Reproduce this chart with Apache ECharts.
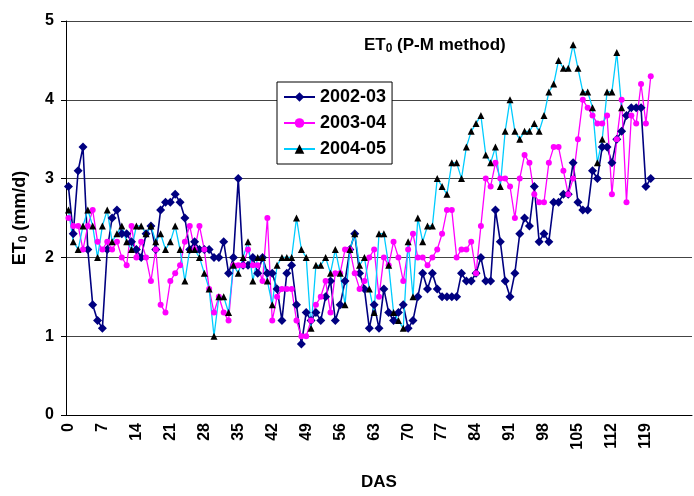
<!DOCTYPE html>
<html>
<head>
<meta charset="utf-8">
<script src="https://cdn.jsdelivr.net/npm/echarts@6/dist/echarts.min.js"></script>
<style>
html,body{margin:0;padding:0;background:#fff;}
#chart{width:694px;height:496px;}
</style>
</head>
<body>
<div id="chart"></div>
<script>
// Day categories (DAS) shown on the x axis
const dayCount = 129;
const days = [];
for (let i = 0; i < dayCount; i++) days.push(String(i));
const tickLabels = ['0','7','14','21','28','35','42','49','56','63','70','77','84','91','98','105','112','119'];
const yTicks = [0, 1, 2, 3, 4, 5];

const seriesNames = ['2002-03', '2003-04', '2004-05'];

const et2002 = [2.9,2.3,3.1,3.4,2.1,1.4,1.2,1.1,2.1,2.5,
 2.6,2.3,2.3,2.2,2.1,2.0,2.3,2.4,2.1,2.6,
 2.7,2.7,2.8,2.7,2.5,2.1,2.2,2.1,2.1,2.1,
 2.0,2.0,2.2,1.8,2.0,3.0,1.9,1.9,2.0,1.8,
 2.0,1.8,1.8,1.6,1.2,1.8,1.9,1.4,0.9,1.3,
 1.2,1.3,1.2,1.5,1.7,1.2,1.4,1.7,2.1,2.3,
 1.8,1.6,1.1,1.4,1.1,1.6,1.3,1.2,1.3,1.4,
 1.1,1.2,1.5,1.8,1.6,1.8,1.6,1.5,1.5,1.5,
 1.5,1.8,1.7,1.7,1.8,2.0,1.7,1.7,2.6,2.2,
 1.7,1.5,1.8,2.3,2.5,2.4,2.9,2.2,2.3,2.2,
 2.7,2.7,2.8,2.8,3.2,2.7,2.6,2.6,3.1,3.0,
 3.4,3.4,3.2,3.5,3.6,3.8,3.9,3.9,3.9,2.9,
 3.0];

const et2003 = [2.5,2.4,2.4,2.1,2.4,2.6,2.2,2.1,2.2,2.1,
 2.2,2.0,1.9,2.4,2.0,2.2,2.0,1.7,2.1,1.4,
 1.3,1.7,1.8,1.9,2.2,2.4,2.1,2.4,2.1,1.6,
 1.3,1.5,1.3,1.2,1.9,1.9,1.9,2.1,1.9,1.9,
 1.7,2.5,1.2,1.5,1.6,1.6,1.6,1.2,1.0,1.0,
 1.2,1.4,1.5,1.7,1.3,1.8,1.8,2.1,2.1,1.8,
 1.6,1.7,2.0,2.1,1.5,2.0,1.9,2.2,2.0,1.7,
 2.1,2.3,2.0,2.0,1.9,2.0,2.1,2.3,2.6,2.6,
 2.0,2.1,2.1,2.2,1.8,2.4,3.0,2.9,3.2,3.0,
 3.0,2.9,2.5,3.0,3.3,3.2,2.8,2.7,2.7,3.2,
 3.4,3.4,3.1,2.8,3.0,3.5,4.0,3.9,3.8,3.7,
 3.7,3.8,2.8,3.5,4.0,2.7,3.8,3.7,4.2,3.7,
 4.3];

const et2004 = [2.6,2.2,2.1,2.4,2.6,2.4,2.0,2.4,2.6,2.2,
 2.3,2.4,2.2,2.1,2.4,2.4,2.3,2.4,2.2,2.3,
 2.1,2.2,2.4,2.1,1.7,2.1,2.1,2.0,1.8,1.6,
 1.0,1.5,1.5,1.3,1.9,1.8,2.0,2.2,1.7,2.0,
 2.0,1.7,1.4,1.9,2.0,2.0,2.0,2.5,2.1,2.0,
 1.1,1.9,1.9,2.0,1.8,2.1,1.8,1.4,2.1,2.3,
 1.9,2.0,1.6,1.3,2.3,2.3,1.9,1.3,1.2,1.1,
 2.2,1.5,2.5,2.2,2.4,2.4,3.0,2.9,2.8,3.2,
 3.2,3.0,3.4,3.6,3.7,3.8,3.3,3.2,3.4,2.9,
 3.6,4.0,3.6,3.5,3.6,3.6,3.7,3.6,3.8,4.1,
 4.2,4.5,4.4,4.4,4.7,4.4,4.1,4.1,3.9,3.2,
 3.5,4.1,4.1,4.6,3.9];

const FONT = '"Liberation Sans", Arial, sans-serif';
const chart = echarts.init(document.getElementById('chart'), null, {renderer: 'canvas'});

const option = {
  animation: false,
  backgroundColor: '#fff',
  title: {
    text: '{a|ET}{s|0}{a| (P-M method)}',
    left: 359, top: 30,
    textStyle: {
      rich: {
        a: {fontFamily: FONT, fontWeight: 'bold', fontSize: 17, color: '#000'},
        s: {fontFamily: FONT, fontWeight: 'bold', fontSize: 12, color: '#000', verticalAlign: 'bottom', padding: [8, 0, 0, 0]}
      }
    }
  },
  legend: {
    orient: 'vertical',
    left: 277, top: 82,
    padding: [6, 6, 6, 6],
    itemWidth: 31, itemHeight: 12, itemGap: 8,
    borderColor: '#000', borderWidth: 1,
    backgroundColor: '#fff',
    textStyle: {fontFamily: FONT, fontWeight: 'bold', fontSize: 18, color: '#000'},
    data: seriesNames
  },
  grid: {left: 66, right: 2, top: 21, bottom: 68, containLabel: false},
  xAxis: {
    type: 'category',
    data: days,
    boundaryGap: true,
    name: 'DAS',
    nameLocation: 'middle',
    nameGap: 59,
    nameTextStyle: {fontFamily: FONT, fontWeight: 'bold', fontSize: 17, color: '#000'},
    axisLine: {lineStyle: {color: '#000', width: 1}},
    axisTick: {length: 5, lineStyle: {color: '#000'}, interval: (i) => i % 7 === 0},
    axisLabel: {
      rotate: 90,
      interval: (i, v) => tickLabels.indexOf(v) >= 0,
      fontFamily: FONT, fontWeight: 'bold', fontSize: 16, color: '#000', margin: 8
    },
    splitLine: {show: false}
  },
  yAxis: {
    type: 'value',
    min: yTicks[0], max: yTicks[yTicks.length - 1], interval: 1,
    name: '{a|ET}{s|0}{a| (mm/d)}',
    nameLocation: 'middle',
    nameGap: 36,
    nameRotate: 90,
    nameTextStyle: {
      rich: {
        a: {fontFamily: FONT, fontWeight: 'bold', fontSize: 18, color: '#000'},
        s: {fontFamily: FONT, fontWeight: 'bold', fontSize: 12, color: '#000', verticalAlign: 'bottom', padding: [8, 0, 0, 0]}
      }
    },
    axisLine: {show: true, lineStyle: {color: '#000', width: 1}},
    axisTick: {show: true, length: 5, lineStyle: {color: '#000'}},
    axisLabel: {fontFamily: FONT, fontWeight: 'bold', fontSize: 16, color: '#000', margin: 12},
    splitLine: {show: true, lineStyle: {color: '#444', width: 1}}
  },
  series: [
    {
      name: seriesNames[0], type: 'line', data: et2002,
      symbol: 'diamond', symbolSize: 9, showAllSymbol: true,
      lineStyle: {color: '#000080', width: 1.6},
      itemStyle: {color: '#000080'}
    },
    {
      name: seriesNames[1], type: 'line', data: et2003,
      symbol: 'circle', symbolSize: 6, showAllSymbol: true,
      lineStyle: {color: '#FF00FF', width: 1.3},
      itemStyle: {color: '#FF00FF'}
    },
    {
      name: seriesNames[2], type: 'line', data: et2004,
      symbol: 'triangle', symbolSize: 7, showAllSymbol: true,
      lineStyle: {color: '#00CCFF', width: 1.3},
      itemStyle: {color: '#000'}
    }
  ]
};
chart.setOption(option);
</script>
</body>
</html>
